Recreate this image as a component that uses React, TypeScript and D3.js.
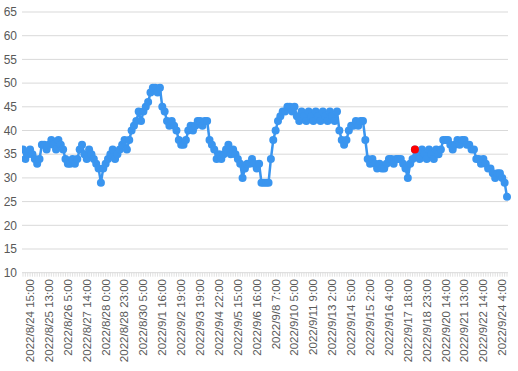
import React from "react";
import * as d3 from "d3";

const W = 518;
const H = 371;

// Humidity-like readings, one per category (hourly, irregular)
const values: number[] = [
  36, 34, 35, 36, 35, 34, 33, 34, 37, 37,
  36, 37, 38, 37, 36, 38, 37, 36, 34, 33,
  33, 34, 33, 34, 36, 37, 35, 34, 36, 35,
  34, 33, 32, 29, 32, 33, 34, 35, 36, 34,
  35, 36, 37, 38, 36, 38, 40, 41, 42, 44,
  42, 44, 45, 46, 48, 49, 49, 48, 49, 45,
  44, 42, 41, 42, 41, 40, 38, 37, 37, 38,
  40, 41, 40, 41, 42, 42, 41, 42, 42, 38,
  37, 36, 34, 35, 34, 35, 36, 37, 35, 36,
  35, 34, 33, 30, 32, 33, 33, 34, 33, 32,
  33, 29, 29, 29, 29, 34, 38, 40, 42, 43,
  44, 44, 45, 45, 44, 45, 43, 42, 44, 43,
  42, 44, 43, 42, 44, 43, 42, 44, 43, 42,
  44, 43, 42, 44, 40, 38, 37, 38, 40, 41,
  41, 42, 41, 42, 42, 38, 34, 33, 34, 33,
  32, 33, 32, 32, 33, 34, 34, 33, 34, 34,
  34, 33, 32, 30, 33, 34, 36, 35, 34, 36,
  35, 34, 36, 35, 34, 36, 35, 36, 38, 38,
  38, 37, 36, 37, 38, 37, 38, 38, 37, 37,
  36, 36, 34, 34, 33, 34, 33, 32, 32, 31,
  30, 31, 31, 30, 29, 26,
];

// Highlighted point (index into values)
const highlightIndex = 166;

// Category labels shown (every 8th category)
const tickLabels: string[] = [
  "2022/8/24 15:00",
  "2022/8/25 13:00",
  "2022/8/26 5:00",
  "2022/8/27 14:00",
  "2022/8/28 0:00",
  "2022/8/28 23:00",
  "2022/8/30 5:00",
  "2022/9/1 16:00",
  "2022/9/2 19:00",
  "2022/9/3 19:00",
  "2022/9/4 22:00",
  "2022/9/5 15:00",
  "2022/9/6 16:00",
  "2022/9/8 7:00",
  "2022/9/10 5:00",
  "2022/9/11 9:00",
  "2022/9/13 2:00",
  "2022/9/14 5:00",
  "2022/9/15 2:00",
  "2022/9/16 4:00",
  "2022/9/17 18:00",
  "2022/9/18 23:00",
  "2022/9/20 14:00",
  "2022/9/21 13:00",
  "2022/9/22 14:00",
  "2022/9/24 4:00",
];
const labelInterval = 8;

const yTicks: number[] = [10, 15, 20, 25, 30, 35, 40, 45, 50, 55, 60, 65];

const BLUE = "#3a95ef";
const RED = "#ff0000";
const GRID = "#d9d9d9";
const TEXT = "#595959";
const FONT = "'Liberation Sans', Arial, sans-serif";

export default function App() {
  const plotLeft = 22;
  const plotRight = 508;
  const x = d3
    .scaleLinear()
    .domain([0, values.length - 1])
    .range([23, 507]);
  const y = d3.scaleLinear().domain([10, 65]).range([272.7, 12]);

  const line = d3
    .line<number>()
    .x((_, i) => x(i))
    .y((d) => y(d));

  const labelOffset = 7;

  return (
    <svg
      width={W}
      height={H}
      style={{ position: "absolute", left: 0, top: 0, background: "#fff" }}
    >
      <defs>
        <clipPath id="plotclip">
          <rect x={plotLeft} y={0} width={W - plotLeft} height={H} />
        </clipPath>
      </defs>
      {/* gridlines */}
      {yTicks.map((t) => (
        <line
          key={"g" + t}
          x1={plotLeft}
          x2={plotRight}
          y1={y(t)}
          y2={y(t)}
          stroke={GRID}
          strokeWidth={1}
        />
      ))}
      {/* y labels */}
      {yTicks.map((t) => (
        <text
          key={"yl" + t}
          x={17}
          y={y(t)}
          dy="0.35em"
          textAnchor="end"
          fontFamily={FONT}
          fontSize={12}
          fill={TEXT}
        >
          {t}
        </text>
      ))}
      {/* category ticks */}
      {values.map((_, i) => (
        <line
          key={"t" + i}
          x1={x(i)}
          x2={x(i)}
          y1={y(10)}
          y2={y(10) + 4}
          stroke={GRID}
          strokeWidth={0.8}
        />
      ))}
      {/* x labels */}
      {tickLabels.map((lab, k) => (
        <text
          key={"xl" + k}
          transform={`translate(${x(k * labelInterval) + labelOffset},${279}) rotate(-90)`}
          dy="0.35em"
          textAnchor="end"
          fontFamily={FONT}
          fontSize={11.5}
          fill={TEXT}
        >
          {lab}
        </text>
      ))}
      <g clipPath="url(#plotclip)">
        <path
          d={line(values) || ""}
          fill="none"
          stroke={BLUE}
          strokeWidth={2.5}
          strokeLinejoin="round"
        />
        {values.map((v, i) => (
          <circle key={"c" + i} cx={x(i)} cy={y(v)} r={4} fill={BLUE} />
        ))}
        <circle
          cx={x(highlightIndex)}
          cy={y(values[highlightIndex])}
          r={4}
          fill={RED}
        />
      </g>
    </svg>
  );
}
